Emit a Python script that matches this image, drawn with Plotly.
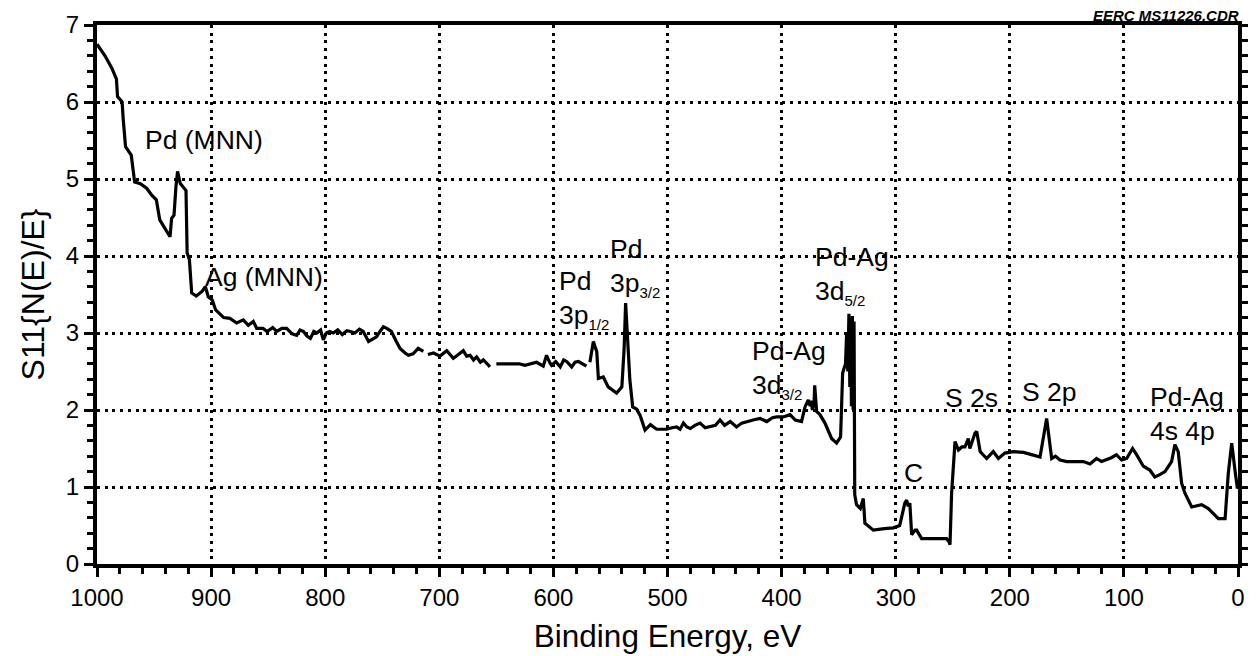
import plotly.graph_objects as go

# Binding energy (eV) and intensity S11{N(E)/E}; None marks gaps in the trace
energy = [1000, 997, 993, 987, 983, 982, 978, 977, 975, 970, 967, 962, 956.5, 952, 948, 945, 940.4, 936,
          934.6, 932.5, 930.8, 929.4, 927, 922, 921, 919, 917, 913, 908, 905, 902.5, 899, 896, 889, 883.5,
          877.6, 871.8, 867.4, 863, 860, 854.5, 851, 846, 842.5, 838, 833.8, 829, 825, 822, 819, 816, 813,
          810, 807.4, 804, 801.7, 799, 796, 793, 789, 785, 781, 778, 774, 770, 766.7, 762, 758, 755, 752,
          749, 746, 742, 738, 734.4, 730, 727, 723, 718.5, 714, 712,
          710, 705, 699.4, 693.5, 687.7, 683, 679, 676, 673, 670, 667.3, 664, 661.4, 658, 655.6, 653,
          650, 645, 640, 635, 630, 625, 620.5, 614.7, 608.9, 606, 603, 601.6, 598, 594, 591, 588.4, 584,
          581, 578, 574, 571, 569.5,
          568, 566, 565, 563, 562, 560.6, 556.3, 552, 548, 544.6, 540, 538, 536.7, 535, 533, 530.5, 527,
          524, 519.7, 515, 509.5, 505, 500.8, 496, 492, 489, 486, 483, 480, 476, 471.5, 467, 462.5, 458,
          454, 450, 445, 439.5, 435, 430.5, 425, 418.9, 413, 408, 404.4, 398.5, 392.6, 388, 382.5, 379.5,
          376.6, 375, 374, 373, 371.5, 371, 369.3, 366.4, 362, 356.2, 351.8, 348.3, 346.5, 344, 343, 342,
          341, 340.2, 339.5, 338.8, 338, 337.3, 336.5, 335.9, 334.3, 331, 328.4, 327, 321, 319.6, 310, 302,
          296.5, 292, 290.4, 289, 287.6, 286, 283, 281.6, 277.3, 265, 255.4, 253, 252.4, 251, 248, 245,
          242, 239.3, 236.4, 235, 230.5, 229, 226, 220.3, 214.5, 210, 204.3, 197, 188, 181, 173.5, 167.7,
          164.8, 163.3, 160, 156, 150, 143, 135.6, 129.7, 124, 119.6, 115.3, 111, 106.5, 102, 97.6, 92.4,
          88.9, 83, 77.3, 72.9, 68.5, 64, 58.2, 55.3, 52.4, 49.4, 46.5, 40.6, 31.9, 26, 17.2, 11.3, 8.5,
          5.5, 2.5, 0.5]
intensity = [6.75, 6.68, 6.6, 6.44, 6.3, 6.07, 6.0, 5.77, 5.42, 5.31, 4.96, 4.94, 4.88, 4.79, 4.73, 4.47, 4.36, 4.25,
             4.49, 4.53, 4.9, 5.1, 4.94, 4.85, 4.04, 3.95, 3.52, 3.48, 3.54, 3.6, 3.47, 3.43, 3.3, 3.2, 3.19,
             3.13, 3.17, 3.1, 3.15, 3.06, 3.06, 3.02, 3.07, 3.02, 3.06, 3.06, 2.99, 2.97, 3.04, 3.02, 2.96, 2.93,
             3.02, 3.0, 3.04, 2.91, 3.0, 3.02, 3.0, 3.04, 2.98, 3.03, 3.02, 3.0, 3.05, 3.02, 2.89, 2.93, 2.95, 3.02,
             3.08, 3.06, 3.02, 2.9, 2.8, 2.74, 2.71, 2.73, 2.8, 2.76, None,
             2.72, 2.74, 2.7, 2.77, 2.67, 2.73, 2.77, 2.7, 2.71, 2.65, 2.69, 2.62, 2.65, 2.6, 2.56, None,
             2.6, 2.6, 2.6, 2.59, 2.6, 2.58, 2.6, 2.62, 2.57, 2.71, 2.61, 2.58, 2.63, 2.56, 2.65, 2.63, 2.56,
             2.62, 2.63, 2.59, 2.57, None,
             2.62, 2.8, 2.89, 2.8, 2.76, 2.41, 2.43, 2.3, 2.25, 2.22, 2.3, 2.8, 3.39, 3.0, 2.39, 2.04, 2.01,
             1.93, 1.74, 1.81, 1.75, 1.75, 1.75, 1.77, 1.78, 1.75, 1.83, 1.78, 1.76, 1.8, 1.83, 1.77, 1.78, 1.8,
             1.87, 1.8, 1.85, 1.78, 1.83, 1.85, 1.87, 1.89, 1.85, 1.9, 1.91, 1.91, 1.94, 1.87, 1.85, 2.04,
             2.13, 2.05, 2.12, 2.0, 2.1, 2.32, 1.98, 1.94, 1.83, 1.63, 1.57, 1.65, 2.48, 2.6, 3.0, 2.5,
             3.25, 2.3, 3.2, 2.05, 3.22, 2.0, 3.15, 0.9, 0.77, 0.72, 0.85, 0.53, 0.46, 0.44, 0.46, 0.47,
             0.5, 0.79, 0.83, 0.75, 0.79, 0.38, 0.44, 0.44, 0.33, 0.33, 0.33, 0.28, 0.25, 0.92, 1.59, 1.48,
             1.52, 1.52, 1.63, 1.5, 1.7, 1.72, 1.46, 1.37, 1.46, 1.37, 1.44, 1.46, 1.45, 1.42, 1.39, 1.89,
             1.59, 1.37, 1.4, 1.35, 1.33, 1.33, 1.33, 1.3, 1.37, 1.33, 1.35, 1.38, 1.42, 1.35, 1.37, 1.5,
             1.42, 1.27, 1.22, 1.13, 1.16, 1.2, 1.33, 1.55, 1.46, 1.05, 0.92, 0.74, 0.77, 0.72, 0.59, 0.59, 1.18,
             1.57, 1.2, 0.98]

x_range = [1000, 0]
y_range = [0, 7]

SUB = "<sub><span style='font-size:15px'>{}</span></sub>"

# Peak labels: (text, energy, intensity, x-anchor)
peak_labels = [
    ("Pd (MNN)", 906.5, 5.51, "center"),
    ("Ag (MNN)", 854, 3.73, "center"),
    ("Pd<br>3p" + SUB.format("1/2"), 597, 3.43, "left"),
    ("Pd<br>3p" + SUB.format("3/2"), 552, 3.85, "left"),
    ("Pd-Ag<br>3d" + SUB.format("3/2"), 428, 2.52, "left"),
    ("Pd-Ag<br>3d" + SUB.format("5/2"), 372.5, 3.75, "left"),
    ("C", 284, 1.18, "center"),
    ("S 2s", 234, 2.16, "center"),
    ("S 2p", 165.6, 2.23, "center"),
    ("Pd-Ag<br>4s 4p", 79, 1.95, "left"),
]

FONT = "Liberation Sans, Arial, Helvetica, sans-serif"

fig = go.Figure()
fig.add_trace(go.Scatter(x=energy, y=intensity, mode="lines",
                         line=dict(color="black", width=3.2), connectgaps=False,
                         showlegend=False, hoverinfo="x+y"))
# transparent copies so the overlaid minor-tick axes are drawn
fig.add_trace(go.Scatter(x=energy, y=intensity, mode="lines", xaxis="x2", yaxis="y2",
                         opacity=0, showlegend=False, hoverinfo="skip"))
fig.add_trace(go.Scatter(x=energy, y=intensity, mode="lines", xaxis="x2", yaxis="y3",
                         opacity=0, showlegend=False, hoverinfo="skip"))

for text, ex, iy, anchor in peak_labels:
    fig.add_annotation(x=ex, y=iy, xref="x", yref="y", text=text, showarrow=False,
                       xanchor=anchor, yanchor="middle", align="left",
                       font=dict(family=FONT, size=26.5, color="black"))

fig.add_annotation(x=1, y=1, xref="paper", yref="paper", text="<b><i>EERC MS11226.CDR</i></b>",
                   showarrow=False, xanchor="right", yanchor="bottom", xshift=3, yshift=-1,
                   font=dict(family=FONT, size=15, color="black"))

grid = dict(showgrid=True, gridcolor="black", gridwidth=3, griddash="3px,4.7px")
tick_style = dict(ticks="outside", ticklen=9, tickwidth=2.5, tickcolor="black")
tfont = dict(family=FONT, size=24, color="black")

minor_axis = dict(showgrid=False, showline=False, zeroline=False, showticklabels=False,
                  automargin=False, tickmode="linear", tick0=0, **tick_style)

fig.update_layout(
    width=1249, height=648,
    margin=dict(l=89, r=19, t=17, b=92),
    plot_bgcolor="white", paper_bgcolor="white",
    font=dict(family=FONT, color="black"),
    xaxis=dict(range=x_range, tickmode="linear", tick0=0, dtick=100,
               showline=True, linecolor="black", linewidth=4, mirror=True,
               zeroline=False, automargin=False, tickfont=tfont,
               title=dict(text="Binding Energy, eV", font=dict(family=FONT, size=31.5, color="black"),
                          standoff=16),
               **grid, **tick_style),
    yaxis=dict(range=y_range, tickmode="linear", tick0=0, dtick=1,
               showline=True, linecolor="black", linewidth=4, mirror=True,
               zeroline=False, automargin=False, tickfont=tfont,
               title=dict(text="S11{N(E)/E}", font=dict(family=FONT, size=32, color="black"),
                          standoff=13),
               **grid, **tick_style),
    xaxis2=dict(range=x_range, overlaying="x", anchor="y", side="bottom", dtick=20, **minor_axis),
    yaxis2=dict(range=y_range, overlaying="y", anchor="x", side="left", dtick=0.2, **minor_axis),
    yaxis3=dict(range=y_range, overlaying="y", anchor="x", side="right", dtick=0.2, **minor_axis),
)

fig.write_html("out.html")
